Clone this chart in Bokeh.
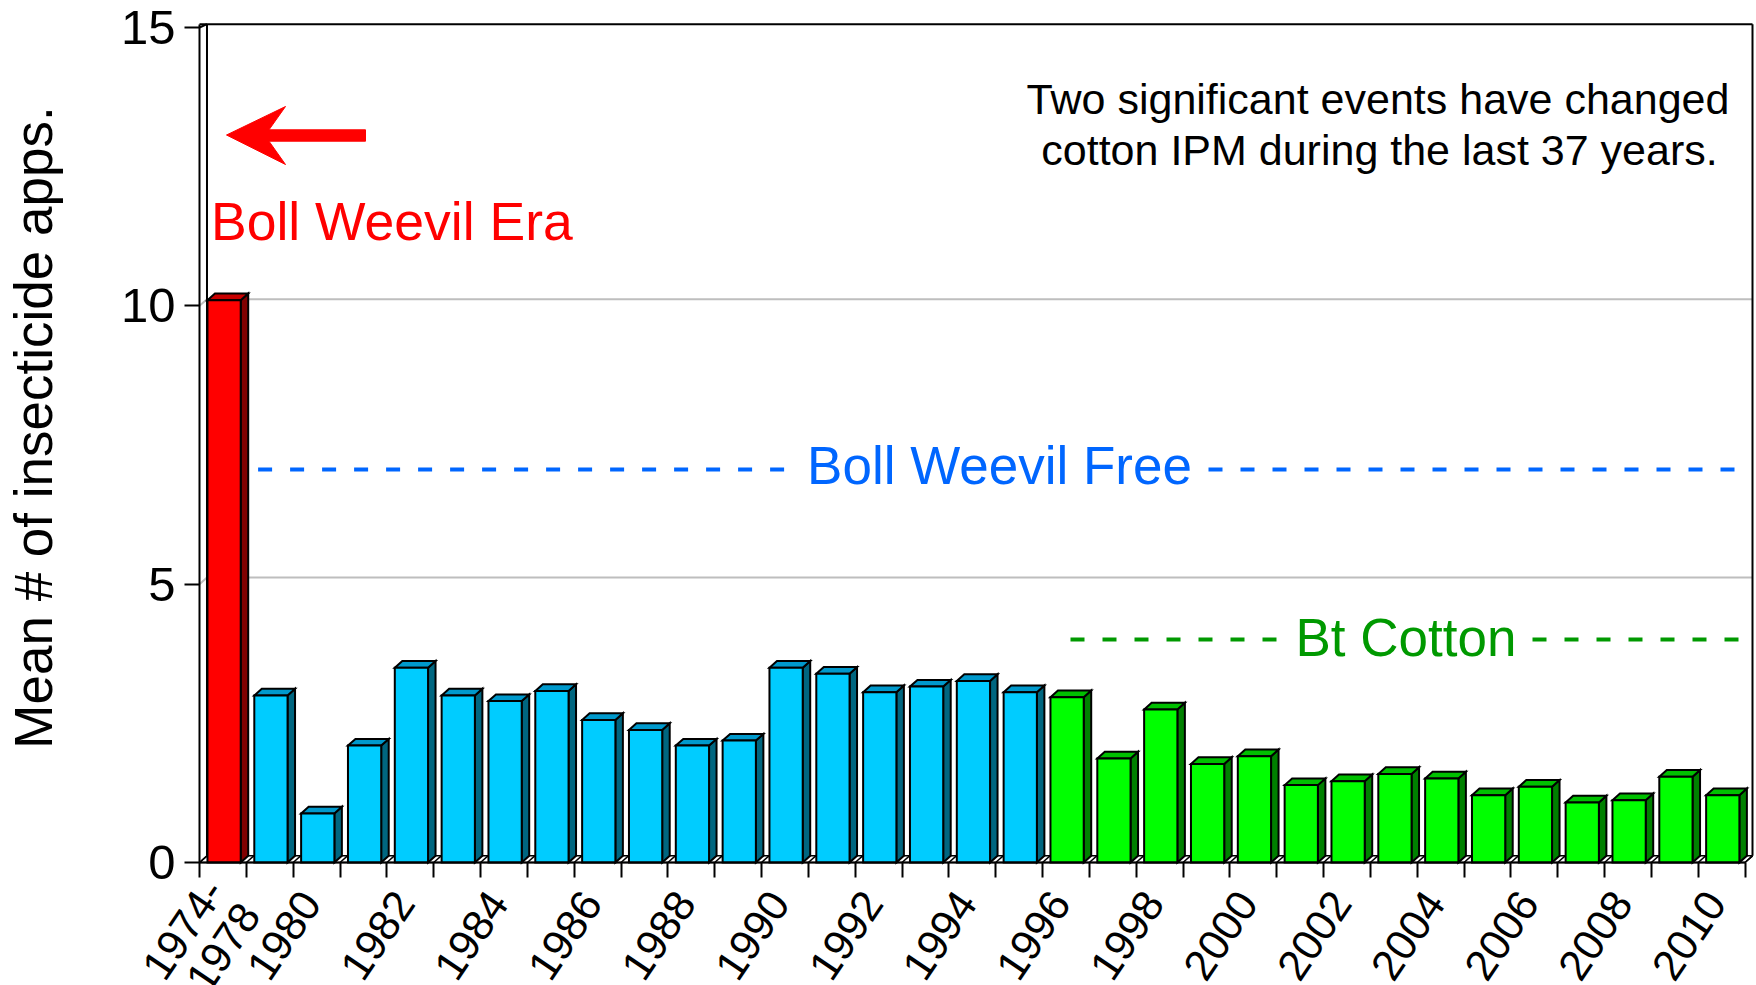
import math
from bokeh.plotting import figure
from bokeh.models import Range1d, FixedTicker, ColumnDataSource
from bokeh.core.properties import value
from bokeh.embed import file_html
from bokeh.resources import INLINE

# ---------------- data ----------------
categories = ["1974-1978", "1979", "1980", "1981", "1982", "1983", "1984", "1985",
              "1986", "1987", "1988", "1989", "1990", "1991", "1992", "1993", "1994",
              "1995", "1996", "1997", "1998", "1999", "2000", "2001", "2002", "2003",
              "2004", "2005", "2006", "2007", "2008", "2009", "2010"]
values = [10.1, 3.0, 0.88, 2.1, 3.5, 3.0, 2.9, 3.08, 2.56, 2.38, 2.1, 2.19, 3.5,
          3.39, 3.06, 3.16, 3.26, 3.06, 2.97, 1.87, 2.75, 1.77, 1.91, 1.39, 1.46,
          1.59, 1.51, 1.21, 1.36, 1.08, 1.12, 1.54, 1.21]
periods = (["Boll Weevil Era"] + ["Boll Weevil Free"] * 17 + ["Bt Cotton"] * 15)
tick_labels = ["1974-\n1978", "1980", "1982", "1984", "1986", "1988", "1990", "1992",
               "1994", "1996", "1998", "2000", "2002", "2004", "2006", "2008", "2010"]
y_ticks = [0, 5, 10, 15]
y_label = "Mean # of insecticide apps."
note_lines = ["Two significant events have changed", "cotton IPM during the last 37 years."]

# ---------------- layout / styles ----------------
FONT = "Liberation Sans"
front_col = {"Boll Weevil Era": "#FF0000", "Boll Weevil Free": "#00CCFF", "Bt Cotton": "#00FF00"}
side_col = {"Boll Weevil Era": "#800000", "Boll Weevil Free": "#006680", "Bt Cotton": "#008000"}
top_col = {"Boll Weevil Era": "#C80000", "Boll Weevil Free": "#0099CC", "Bt Cotton": "#00C000"}
W, H = 1756, 985
AXIS_X, ZERO_Y, Y15, BOX_R = 199, 862, 27, 1752
N = len(categories)
DX, DY = 0.16, 0.12          # 3-D depth offsets (data units)
BX0, BX1 = 0.17, 0.88         # front face inside each category slot
YTOP = 15.06
XS = (BOX_R - AXIS_X) / (N + DX)            # px per category
YS = (ZERO_Y - Y15) / 15.0                  # px per unit


def xd(px):
    return (px - AXIS_X) / XS


def yd(py):
    return (ZERO_Y - py) / YS


# the frame covers the whole canvas; axes are pinned at x = 0 and y = 0
p = figure(width=W, height=H, x_range=Range1d(xd(0), xd(W)), y_range=Range1d(yd(H), yd(0)),
           output_backend="svg", toolbar_location=None,
           min_border_left=0, min_border_right=0, min_border_top=0, min_border_bottom=0)
p.xgrid.visible = False
p.ygrid.visible = False
p.outline_line_color = None
p.background_fill_color = "white"
p.border_fill_color = "white"

# y axis
yax = p.yaxis[0]
yax.fixed_location = 0
yax.bounds = (0, YTOP)
yax.ticker = FixedTicker(ticks=y_ticks)
yax.major_tick_out = 15
yax.major_tick_in = 0
yax.major_tick_line_width = 2
yax.major_tick_line_color = "black"
yax.minor_tick_line_color = None
yax.axis_line_width = 2
yax.axis_line_color = "black"
yax.major_label_text_font = FONT
yax.major_label_text_font_size = "49px"
yax.major_label_text_color = "black"
yax.major_label_standoff = 9

# x axis: tick marks at category boundaries, labels under every other bar
tick_pos = [categories.index(t.replace("\n", "")) + (0.69 if "\n" in t else 0.37)
            for t in tick_labels]
xax = p.xaxis[0]
xax.fixed_location = 0
xax.bounds = (0, N)
xax.ticker = FixedTicker(ticks=tick_pos, minor_ticks=list(range(N + 1)))
xax.major_label_overrides = {pos: t for pos, t in zip(tick_pos, tick_labels)}
xax.major_tick_line_color = None
xax.major_tick_out = 15
xax.major_tick_in = 0
xax.minor_tick_out = 15
xax.minor_tick_in = 0
xax.minor_tick_line_width = 2
xax.minor_tick_line_color = "black"
xax.axis_line_width = 2
xax.axis_line_color = "black"
xax.major_label_orientation = 0.977
xax.major_label_standoff = 18
xax.major_label_text_font = FONT
xax.major_label_text_font_size = "43px"
xax.major_label_text_color = "black"
xax.major_label_text_line_height = 0.9

# y-axis title
p.text([xd(33)], [yd(427)], text=[y_label], angle=math.pi / 2, text_align="center",
       text_baseline="middle", text_font=value(FONT), text_font_size="53px", text_color="black")

# back-plane gridlines
for v in [5, 10]:
    p.line([0, DX, N + DX], [v, v + DY, v + DY], line_color="#BEBEBE", line_width=2)

# floor, wall, box
p.patch([0, DX, N + DX, N], [0, DY, DY, 0], fill_color="white", line_color="black", line_width=1.5)
p.multi_line([[k, k + DX] for k in range(N + 1)], [[0, DY] for k in range(N + 1)],
             line_color="black", line_width=1.5)
p.line([DX, DX], [DY, YTOP], line_color="black", line_width=2)
p.line([0, DX], [15, YTOP], line_color="black", line_width=2)
p.line([0, N + DX], [YTOP, YTOP], line_color="black", line_width=2)
p.line([N + DX, N + DX], [DY, YTOP], line_color="black", line_width=2)

# bars (3-D)
side_xs, side_ys, top_xs, top_ys = [], [], [], []
for k, v in enumerate(values):
    x0, x1 = k + BX0, k + BX1
    side_xs.append([x1, x1 + DX, x1 + DX, x1])
    side_ys.append([0, DY, v + DY, v])
    top_xs.append([x0, x0 + DX, x1 + DX, x1])
    top_ys.append([v, v + DY, v + DY, v])
src = ColumnDataSource(dict(
    left=[k + BX0 for k in range(N)], right=[k + BX1 for k in range(N)], top=values,
    side_xs=side_xs, side_ys=side_ys, top_xs=top_xs, top_ys=top_ys,
    fc=[front_col[e] for e in periods], sc=[side_col[e] for e in periods],
    tc=[top_col[e] for e in periods]))
p.patches("side_xs", "side_ys", source=src, fill_color="sc", line_color="black", line_width=2,
          line_join="miter")
p.patches("top_xs", "top_ys", source=src, fill_color="tc", line_color="black", line_width=2,
          line_join="miter")
p.quad(left="left", right="right", bottom=0, top="top", source=src, fill_color="fc",
       line_color="black", line_width=2, line_join="miter")

# red arrow + Boll Weevil Era
ax_px = [226, 285, 268.5, 365, 365, 268.5, 285]
ay_px = [134.5, 106, 129.3, 129.3, 140.7, 140.7, 164]
p.patch([xd(a) for a in ax_px], [yd(b) for b in ay_px],
        fill_color="#FF0000", line_color="#FF0000", line_width=1)
p.text([xd(210.5)], [yd(221)], text=[periods[0]], text_align="left", text_baseline="middle",
       text_font=value(FONT), text_font_size="53.5px", text_color="#FF0000")

# Boll Weevil Free dashed line
p.multi_line([[xd(257.6), xd(790)], [xd(1208), N + DX]], [[yd(469)] * 2, [yd(469)] * 2],
             line_color="#0066FF", line_width=4, line_dash="14 18")
p.text([xd(999)], [yd(464.5)], text=[periods[1]], text_align="center", text_baseline="middle",
       text_font=value(FONT), text_font_size="53px", text_color="#0066FF")

# Bt Cotton dashed line
p.multi_line([[xd(1070), xd(1277)], [xd(1532), N + DX]], [[yd(639)] * 2, [yd(639)] * 2],
             line_color="#009900", line_width=4, line_dash="14 18")
p.text([xd(1405.5)], [yd(637)], text=[periods[-1]], text_align="center", text_baseline="middle",
       text_font=value(FONT), text_font_size="53px", text_color="#009900")

# note
p.text([xd(1377.5), xd(1379)], [yd(98.6), yd(149)], text=note_lines, text_align="center",
       text_baseline="middle", text_font=value(FONT), text_font_size="43px", text_color="black")

open("out.html", "w").write(file_html(p, INLINE))
